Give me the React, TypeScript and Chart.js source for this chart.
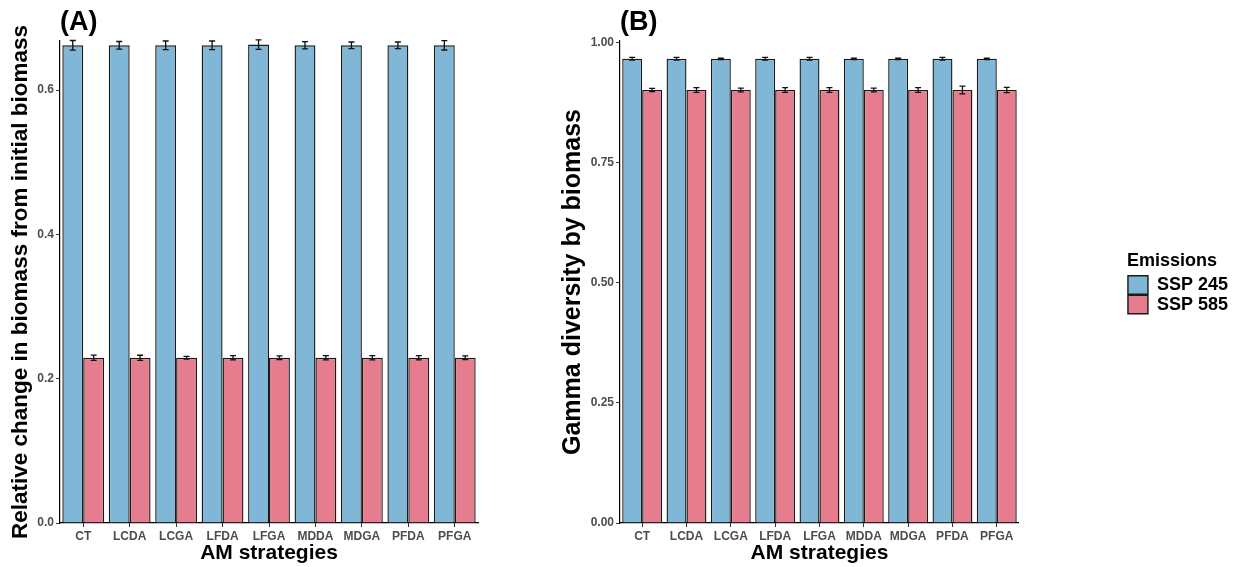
import React, { useEffect, useRef } from "react";
import { Chart, registerables } from "chart.js";

Chart.register(...registerables);

const categories = ["CT", "LCDA", "LCGA", "LFDA", "LFGA", "MDDA", "MDGA", "PFDA", "PFGA"];
const seriesNames = ["SSP 245", "SSP 585"];

const biomass245 = [0.662, 0.662, 0.662, 0.662, 0.663, 0.662, 0.662, 0.662, 0.662];
const biomass245Err = [0.0067, 0.0053, 0.006, 0.006, 0.0065, 0.005, 0.0046, 0.0046, 0.0065];
const biomass585 = [0.229, 0.229, 0.229, 0.229, 0.229, 0.229, 0.229, 0.229, 0.229];
const biomass585Err = [0.0037, 0.0035, 0.0018, 0.003, 0.0025, 0.003, 0.003, 0.003, 0.0025];

const gamma245 = [0.967, 0.967, 0.967, 0.967, 0.967, 0.967, 0.967, 0.967, 0.967];
const gamma245Err = [0.003, 0.003, 0.0015, 0.003, 0.003, 0.0015, 0.0015, 0.003, 0.0015];
const gamma585 = [0.902, 0.902, 0.902, 0.902, 0.902, 0.902, 0.902, 0.902, 0.902];
const gamma585Err = [0.0035, 0.005, 0.004, 0.005, 0.005, 0.004, 0.005, 0.008, 0.0055];

const ticksA = [0, 0.2, 0.4, 0.6];
const ticksB = [0, 0.25, 0.5, 0.75, 1.0];

const BLUE = "#80b6d6";
const RED = "#e57d8e";
const FONT = "'Liberation Sans', Arial, sans-serif";

const errorBarPlugin = {
  id: "errorBars",
  afterDatasetsDraw(chart: any) {
    const errs = chart.options.plugins.errorBars?.errors;
    if (!errs) return;
    const ctx = chart.ctx;
    const yScale = chart.scales.y;
    ctx.save();
    ctx.strokeStyle = "#111";
    ctx.lineWidth = 1.3;
    chart.data.datasets.forEach((ds: any, i: number) => {
      const meta = chart.getDatasetMeta(i);
      meta.data.forEach((bar: any, j: number) => {
        const v = ds.data[j];
        const e = errs[i][j];
        const x = bar.x;
        const yt = yScale.getPixelForValue(v + e);
        const yb = yScale.getPixelForValue(v - e);
        ctx.beginPath();
        ctx.moveTo(x, yt);
        ctx.lineTo(x, yb);
        ctx.moveTo(x - 3, yt);
        ctx.lineTo(x + 3, yt);
        ctx.moveTo(x - 3, yb);
        ctx.lineTo(x + 3, yb);
        ctx.stroke();
      });
    });
    ctx.restore();
  },
};

function makeConfig(opts: {
  label: string;
  yTitle: string;
  yTitleSize: number;
  v1: number[];
  v2: number[];
  e1: number[];
  e2: number[];
  ticks: number[];
  max: number;
  decimals: number;
  yWidth: number;
  yTitlePad: number;
  legend: boolean;
  rightGap: number;
  padRight: number;
}) {
  const scales: any = {
    x: {
      type: "category",
      offset: true,
      grid: { display: true, drawOnChartArea: false, drawTicks: true, tickLength: 4, color: "#333", offset: false },
      border: { display: true, color: "#000", width: 1.2 },
      ticks: { color: "#4d4d4d", font: { family: FONT, size: 12, weight: "bold" }, padding: 2, maxRotation: 0 },
      title: { display: true, text: "AM strategies", color: "#000", font: { family: FONT, size: 21, weight: "bold" }, padding: { top: 0, bottom: 1 } },
      afterFit: (s: any) => { s.height = 44; },
    },
    y: {
      type: "linear",
      position: "left",
      min: 0,
      max: opts.max,
      grid: { display: true, drawOnChartArea: false, drawTicks: true, tickLength: 4, color: "#333" },
      border: { display: true, color: "#000", width: 1.2 },
      ticks: {
        color: "#4d4d4d",
        font: { family: FONT, size: 12, weight: "bold" },
        padding: 2,
        callback: (v: any) => Number(v).toFixed(opts.decimals),
      },
      afterBuildTicks: (s: any) => { s.ticks = opts.ticks.map((v) => ({ value: v })); },
      title: { display: true, text: opts.yTitle, color: "#000", font: { family: FONT, size: opts.yTitleSize, weight: "bold" }, padding: { top: opts.yTitlePad, bottom: 0 } },
      afterFit: (s: any) => { s.width = opts.yWidth; },
    },
  };
  if (opts.rightGap > 0) {
    scales.gap = {
      type: "linear",
      position: "right",
      display: true,
      grid: { display: false },
      border: { display: false },
      ticks: { display: false },
      afterFit: (s: any) => { s.width = opts.rightGap; },
    };
  }
  return {
    type: "bar",
    data: {
      labels: categories,
      datasets: [
        { label: seriesNames[0], data: opts.v1, backgroundColor: BLUE, borderColor: "#1a1a1a", borderWidth: 1.4, barPercentage: 1.0, categoryPercentage: 0.9 },
        { label: seriesNames[1], data: opts.v2, backgroundColor: RED, borderColor: "#1a1a1a", borderWidth: 1.4, barPercentage: 1.0, categoryPercentage: 0.9 },
      ],
    },
    options: {
      animation: false,
      responsive: false,
      maintainAspectRatio: false,
      layout: { padding: { left: 0, right: opts.padRight, top: 0, bottom: 0 } },
      scales,
      plugins: {
        errorBars: { errors: [opts.e1, opts.e2] },
        tooltip: { enabled: false },
        title: {
          display: true,
          text: opts.label,
          align: "start",
          fullSize: false,
          color: "#000",
          font: { family: FONT, size: 27, weight: "bold" },
          padding: { top: 6, bottom: 2.6 },
        },
        legend: {
          display: opts.legend,
          position: "right",
          align: "center",
          title: {
            display: true,
            text: "Emissions",
            position: "start",
            color: "#000",
            font: { family: FONT, size: 18, weight: "bold" },
            padding: { top: 0, bottom: 1 },
          },
          labels: {
            color: "#000",
            font: { family: FONT, size: 18, weight: "bold" },
            boxWidth: 20,
            boxHeight: 18.5,
            padding: 1,
          },
        },
      },
    },
    plugins: [errorBarPlugin],
  } as any;
}

function ChartCanvas({ config, width, height, left }: { config: any; width: number; height: number; left: number }) {
  const ref = useRef<HTMLCanvasElement | null>(null);
  useEffect(() => {
    if (!ref.current) return;
    const chart = new Chart(ref.current, config);
    return () => chart.destroy();
  }, []);
  return (
    <canvas
      ref={ref}
      width={width}
      height={height}
      style={{ position: "absolute", left, top: 0, width, height }}
    />
  );
}

export default function App() {
  const configA = makeConfig({
    label: "(A)",
    yTitle: "Relative change in biomass from initial biomass",
    yTitleSize: 22.5,
    v1: biomass245,
    v2: biomass585,
    e1: biomass245Err,
    e2: biomass585Err,
    ticks: ticksA,
    max: 0.668,
    decimals: 1,
    yWidth: 60,
    yTitlePad: 7.5,
    legend: false,
    rightGap: 0,
    padRight: 12,
  });
  const configB = makeConfig({
    label: "(B)",
    yTitle: "Gamma diversity by biomass",
    yTitleSize: 25,
    v1: gamma245,
    v2: gamma585,
    e1: gamma245Err,
    e2: gamma585Err,
    ticks: ticksB,
    max: 1.004,
    decimals: 2,
    yWidth: 70,
    yTitlePad: 8,
    legend: true,
    rightGap: 108,
    padRight: -3,
  });
  return (
    <div style={{ position: "fixed", left: 0, top: 0, width: 1235, height: 567, background: "#fff" }}>
      <ChartCanvas config={configA} width={490} height={567} left={0} />
      <ChartCanvas config={configB} width={685} height={567} left={550} />
    </div>
  );
}
